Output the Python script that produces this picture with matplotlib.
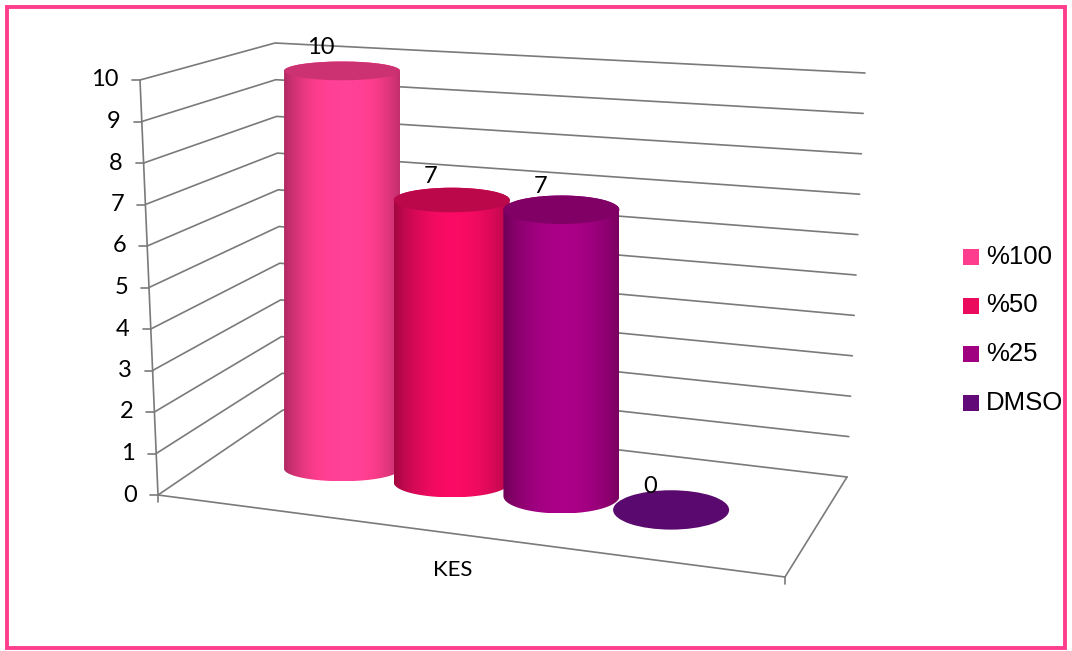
import numpy as np
import matplotlib
matplotlib.use('Agg')
import matplotlib.pyplot as plt
from matplotlib.patches import Ellipse, PathPatch, Rectangle
from matplotlib.path import Path
from matplotlib.colors import to_rgb

# data
series = ['%100', '%50', '%25', 'DMSO']
values = [10, 7, 7, 0]
colors = ['#FF3D8E', '#EA0A5E', '#A0007F', '#620A78']
category = 'KES'
yticks = list(range(0, 11))
ymax = 10

W, H = 1072, 651
fig = plt.figure(figsize=(W / 100, H / 100), dpi=100)
ax = fig.add_axes([0, 0, 1, 1])
ax.set_xlim(0, W)
ax.set_ylim(H, 0)
ax.axis('off')

# floor corners (front-left, front-right, back-left, back-right) in pixels,
# pixels per unit and sideways lean per unit on each vertical edge
FL, FR = np.array([158.0, 495.0]), np.array([785.0, 577.0])
BL, BR = np.array([283.0, 410.0]), np.array([847.0, 477.0])
UNIT = (41.5, 44.0, 36.7, 40.4)
LEAN = (-1.8, 2.5, -0.8, 1.8)


def bilin(u, w, fl, fr, bl, br):
    return (1 - w) * ((1 - u) * fl + u * fr) + w * ((1 - u) * bl + u * br)


def proj(u, w, v, lean=True):
    p = bilin(u, w, FL, FR, BL, BR)
    s = bilin(u, w, *UNIT)
    dx = bilin(u, w, *LEAN) if lean else 0.0
    return np.array([p[0] + v * dx, p[1] - v * s])


grid_kw = dict(color='#7a7a7a', lw=1.2, zorder=1, solid_capstyle='round')

# walls: gridlines on the left wall and the back wall
for v in yticks:
    a, b, c = proj(0, 0, v), proj(0, 1, v), proj(1, 1, v)
    ax.plot([a[0], b[0], c[0]], [a[1], b[1], c[1]], **grid_kw)

# floor outline
pts = [proj(0, 0, 0), proj(1, 0, 0), proj(1, 1, 0)]
ax.plot([p[0] for p in pts], [p[1] for p in pts], **grid_kw)

# value axis line and ticks
top, bot = proj(0, 0, ymax), proj(0, 0, 0)
ax.plot([top[0], bot[0]], [top[1], bot[1]], **grid_kw)
for v in yticks:
    p = proj(0, 0, v)
    ax.plot([p[0] - 8, p[0]], [p[1], p[1]], **grid_kw)
    ax.text(p[0] - 21, p[1], str(v), ha='right', va='center',
            fontsize=17, family='Lato', color='black')
# category axis end ticks
for u in (0, 1):
    p = proj(u, 0, 0)
    ax.plot([p[0], p[0]], [p[1], p[1] + 7], **grid_kw)

# cylinders
n = len(series)
step, mid, depth = 0.184, 0.482, 0.49
half_w = 58
t = np.linspace(0, 1, 240)
profile = 0.62 + 0.45 * np.sin(np.pi * np.clip(t * 0.92 + 0.02, 0, 1)) ** 0.7

order = sorted(range(n), key=lambda i: (values[i] > 0, i))
for i in order:
    v = values[i]
    u = mid + (i - (n - 1) / 2) * step
    cx, yb = proj(u, depth, 0, lean=False)
    _, yt = proj(u, depth, v, lean=False)
    hb = 12.5 + 13 * (u - 0.206)
    ht = hb * (1 - 0.025 * v)
    base = np.array(to_rgb(colors[i]))
    z = 3 + i
    if v > 0:
        th1 = np.linspace(np.pi, 0, 60)
        th2 = np.linspace(0, np.pi, 60)
        verts = [(cx - half_w, yt), (cx - half_w, yb)]
        verts += list(zip(cx + half_w * np.cos(th1), yb + hb * np.sin(th1)))
        verts += [(cx + half_w, yt)]
        verts += list(zip(cx + half_w * np.cos(th2), yt - ht * np.sin(th2)))
        verts += [(cx - half_w, yt)]
        codes = [Path.MOVETO] + [Path.LINETO] * (len(verts) - 2) + [Path.CLOSEPOLY]
        body = PathPatch(Path(verts, codes), transform=ax.transData,
                         facecolor='none', edgecolor='none')
        grad = np.clip(base[None, :] * profile[:, None], 0, 1)[None, :, :]
        im = ax.imshow(grad, extent=(cx - half_w, cx + half_w, yb + hb, yt - ht),
                       aspect='auto', interpolation='bilinear', zorder=z)
        im.set_clip_path(body)
        ax.add_patch(Ellipse((cx, yt), 2 * half_w, 2 * ht,
                             facecolor=base * 0.8, edgecolor='none', zorder=z + 0.1))
        label_y = yt
    else:
        ax.add_patch(Ellipse((cx, yb), 2 * half_w, 2 * hb,
                             facecolor=base * 0.92, edgecolor='none', zorder=2))
        label_y = yb
    ax.text(cx - 21, label_y - 23, str(v), ha='center', va='center',
            fontsize=17, family='Lato', color='black', zorder=20)

# category label
ax.text(453, 570, category, ha='center', va='center', fontsize=16,
        family='Lato', color='black')

# legend
for k, (name, col) in enumerate(zip(series, colors)):
    yc = 257 + k * 48.5
    ax.add_patch(Rectangle((963, yc - 8), 16, 16, facecolor=col,
                           edgecolor='none', zorder=5))
    ax.text(986, yc, name, ha='left', va='center', fontsize=18.5,
            family='Liberation Sans', color='black')

# outer frame
ax.add_patch(Rectangle((7, 6.5), 1058, 641, facecolor='none',
                       edgecolor='#FF3D8E', lw=2.8, zorder=30))

ax.set_xlim(0, W)
ax.set_ylim(H, 0)
fig.savefig('out.png', dpi=100)
